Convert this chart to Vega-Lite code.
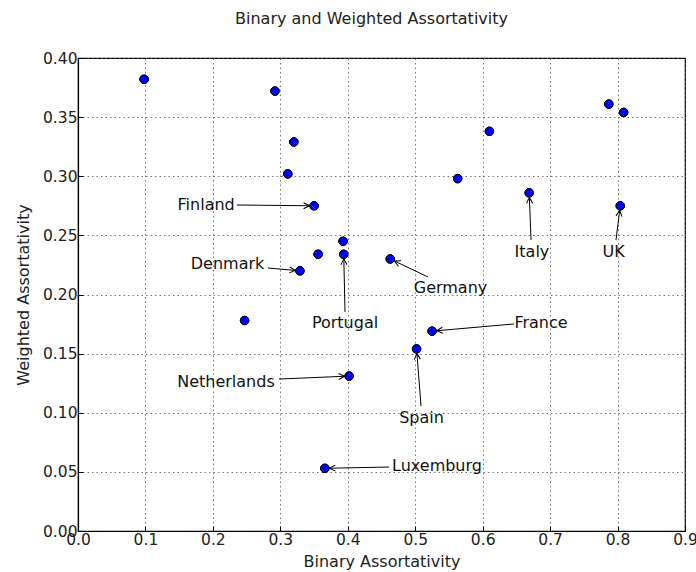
{
  "$schema": "https://vega.github.io/schema/vega-lite/v6.json",
  "width": 607,
  "height": 473,
  "autosize": {"type": "none"},
  "padding": {"left": 78, "top": 58, "right": 11, "bottom": 41},
  "background": "white",
  "config": {
    "font": "DejaVu Sans",
    "view": {"stroke": "black", "strokeWidth": 1.2},
    "axis": {
      "domainColor": "black",
      "domainWidth": 1.2,
      "tickColor": "black",
      "tickSize": -5,
      "labelColor": "#222",
      "titleColor": "#222",
      "labelFont": "DejaVu Sans",
      "titleFont": "DejaVu Sans",
      "labelFontSize": 15.5,
      "titleFontSize": 16,
      "titleFontWeight": "normal",
      "gridColor": "#555",
      "gridDash": [1.5, 3],
      "gridWidth": 1,
      "gridOpacity": 0.8
    }
  },
  "title": {
    "text": "Binary and Weighted Assortativity",
    "font": "DejaVu Sans",
    "fontSize": 16,
    "fontWeight": "normal",
    "color": "#222",
    "anchor": "middle",
    "dx": -10,
    "offset": 24
  },
  "datasets": {
    "points": [
      {"country": "", "binary": 0.098, "weighted": 0.382},
      {"country": "", "binary": 0.292, "weighted": 0.372},
      {"country": "", "binary": 0.320, "weighted": 0.329},
      {"country": "", "binary": 0.311, "weighted": 0.302},
      {"country": "Finland", "binary": 0.350, "weighted": 0.275},
      {"country": "", "binary": 0.393, "weighted": 0.245},
      {"country": "", "binary": 0.356, "weighted": 0.234},
      {"country": "Portugal", "binary": 0.394, "weighted": 0.234},
      {"country": "Denmark", "binary": 0.329, "weighted": 0.220},
      {"country": "", "binary": 0.787, "weighted": 0.361},
      {"country": "", "binary": 0.809, "weighted": 0.354},
      {"country": "", "binary": 0.610, "weighted": 0.338},
      {"country": "", "binary": 0.563, "weighted": 0.298},
      {"country": "Italy", "binary": 0.669, "weighted": 0.286},
      {"country": "UK", "binary": 0.804, "weighted": 0.275},
      {"country": "Germany", "binary": 0.463, "weighted": 0.230},
      {"country": "", "binary": 0.247, "weighted": 0.178},
      {"country": "Netherlands", "binary": 0.402, "weighted": 0.131},
      {"country": "Luxemburg", "binary": 0.366, "weighted": 0.053},
      {"country": "France", "binary": 0.525, "weighted": 0.169},
      {"country": "Spain", "binary": 0.502, "weighted": 0.154}
    ],
    "labels": [
      {"country": "Finland", "tx": 0.190, "ty": 0.2757, "sx": 0.2357, "sy": 0.2757, "binary": 0.350, "weighted": 0.275},
      {"country": "Denmark", "tx": 0.2217, "ty": 0.2258, "sx": 0.2817, "sy": 0.2224, "binary": 0.329, "weighted": 0.220},
      {"country": "Portugal", "tx": 0.3959, "ty": 0.1759, "sx": 0.3959, "sy": 0.1852, "binary": 0.394, "weighted": 0.234},
      {"country": "Germany", "tx": 0.5523, "ty": 0.2055, "sx": 0.5190, "sy": 0.2148, "binary": 0.463, "weighted": 0.230},
      {"country": "France", "tx": 0.6865, "ty": 0.1759, "sx": 0.6465, "sy": 0.1751, "binary": 0.525, "weighted": 0.169},
      {"country": "Spain", "tx": 0.5093, "ty": 0.0956, "sx": 0.5086, "sy": 0.1057, "binary": 0.502, "weighted": 0.154},
      {"country": "Netherlands", "tx": 0.2194, "ty": 0.1260, "sx": 0.2980, "sy": 0.1285, "binary": 0.402, "weighted": 0.131},
      {"country": "Luxemburg", "tx": 0.5323, "ty": 0.0550, "sx": 0.4611, "sy": 0.0541, "binary": 0.366, "weighted": 0.053},
      {"country": "Italy", "tx": 0.6731, "ty": 0.2359, "sx": 0.6717, "sy": 0.2461, "binary": 0.669, "weighted": 0.286},
      {"country": "UK", "tx": 0.7940, "ty": 0.2359, "sx": 0.7977, "sy": 0.2461, "binary": 0.804, "weighted": 0.275}
    ]
  },
  "layer": [
    {
      "data": {"name": "points"},
      "mark": {"type": "point", "filled": true, "shape": "circle", "size": 72, "fill": "#0000ff", "stroke": "black", "strokeWidth": 1, "opacity": 1},
      "encoding": {
        "x": {
          "field": "binary", "type": "quantitative",
          "scale": {"domain": [0, 0.9], "nice": false, "zero": false},
          "axis": {"title": "Binary Assortativity", "values": [0, 0.1, 0.2, 0.3, 0.4, 0.5, 0.6, 0.7, 0.8, 0.9], "format": ".1f", "labelPadding": 6, "titlePadding": 6, "labelFlush": false}
        },
        "y": {
          "field": "weighted", "type": "quantitative",
          "scale": {"domain": [0, 0.4], "nice": false, "zero": false},
          "axis": {"title": "Weighted Assortativity", "values": [0, 0.05, 0.1, 0.15, 0.2, 0.25, 0.3, 0.35, 0.4], "format": ".2f", "labelPadding": 6, "titlePadding": 11, "labelFlush": false}
        }
      }
    },
    {
      "data": {"name": "labels"},
      "mark": {"type": "rule", "color": "black", "strokeWidth": 1},
      "encoding": {
        "x": {"field": "sx", "type": "quantitative"},
        "y": {"field": "sy", "type": "quantitative"},
        "x2": {"field": "binary"},
        "y2": {"field": "weighted"}
      }
    },
    {
      "data": {"name": "points"},
      "mark": {"type": "point", "filled": true, "shape": "circle", "size": 72, "fill": "#0000ff", "stroke": "black", "strokeWidth": 1, "opacity": 1},
      "encoding": {
        "x": {"field": "binary", "type": "quantitative"},
        "y": {"field": "weighted", "type": "quantitative"}
      }
    },
    {
      "data": {"name": "labels"},
      "transform": [
        {"calculate": "atan2(-(datum.weighted - datum.sy) * 1182.5, (datum.binary - datum.sx) * 674.44) * 180 / PI", "as": "ang"}
      ],
      "mark": {"type": "point", "filled": false, "shape": "M -1.75 -0.5 L -0.75 0 L -1.75 0.5", "size": 144, "stroke": "black", "strokeWidth": 1, "opacity": 1},
      "encoding": {
        "x": {"field": "binary", "type": "quantitative"},
        "y": {"field": "weighted", "type": "quantitative"},
        "angle": {"field": "ang", "type": "quantitative", "scale": null}
      }
    },
    {
      "data": {"name": "labels"},
      "mark": {"type": "text", "font": "DejaVu Sans", "fontSize": 16, "color": "#111", "align": "center", "baseline": "middle"},
      "encoding": {
        "x": {"field": "tx", "type": "quantitative"},
        "y": {"field": "ty", "type": "quantitative"},
        "text": {"field": "country"}
      }
    }
  ]
}
